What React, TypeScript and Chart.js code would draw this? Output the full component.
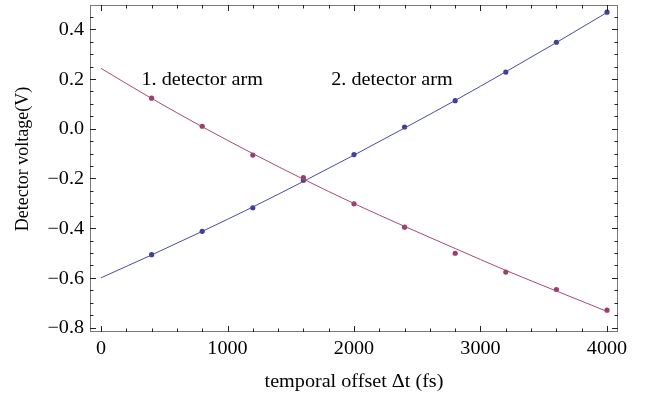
import React, { useEffect, useRef } from "react";
import { Chart, registerables } from "chart.js";

Chart.register(...registerables);

const sampleOffsets = [400, 800, 1200, 1600, 2000, 2400, 2800, 3200, 3600, 4000];
const arm2Measured = [-0.507, -0.413, -0.318, -0.207, -0.104, 0.007, 0.113, 0.228, 0.348, 0.469];
const arm1Measured = [0.123, 0.01, -0.106, -0.197, -0.302, -0.396, -0.501, -0.577, -0.647, -0.73];

const fitOffsets = [0, 400, 800, 1200, 1600, 2000, 2400, 2800, 3200, 3600, 4000];
const arm2Fit = [-0.6, -0.508, -0.413, -0.315, -0.212, -0.106, 0.003, 0.114, 0.229, 0.347, 0.468];
const arm1Fit = [0.243, 0.122, 0.008, -0.1, -0.203, -0.301, -0.393, -0.482, -0.57, -0.653, -0.735];

const xMajorTicks = [0, 1000, 2000, 3000, 4000];
const yMajorTicks = [-0.8, -0.6, -0.4, -0.2, 0.0, 0.2, 0.4];

const armLabels = ["1. detector arm", "2. detector arm"];
const armLabelX = [800, 2300];
const armLabelY = [0.175, 0.175];

const xTitle = "temporal offset \u0394t (fs)";
const yTitle = "Detector voltage(V)";

const BLUE = "#3d3d99";
const RED = "#993d6b";
const BLUE_LINE = "#4a4aac";
const RED_LINE = "#a8487a";
const FONT = "'Liberation Serif', 'DejaVu Serif', serif";
const FONT_PX = 18;
const STRETCH = 1.12;

const fmtY = (v: number) => {
  const s = Math.abs(v).toFixed(1);
  return v < -1e-9 ? "\u2212" + s : s;
};

function stretchedText(ctx: CanvasRenderingContext2D, text: string, x: number, y: number, align: CanvasTextAlign, baseline: CanvasTextBaseline) {
  ctx.save();
  ctx.translate(x, y);
  ctx.scale(STRETCH, 1);
  ctx.textAlign = align;
  ctx.textBaseline = baseline;
  ctx.fillText(text, 0, 0);
  ctx.restore();
}

const framePlugin = {
  id: "frameTicks",
  afterDatasetsDraw(chart: any) {
    const { ctx, chartArea: a, scales } = chart;
    const xs = scales.x;
    const ys = scales.y;
    ctx.save();
    // frame
    ctx.strokeStyle = "#7a7a7a";
    ctx.lineWidth = 1;
    ctx.strokeRect(Math.round(a.left) + 0.5, Math.round(a.top) + 0.5, Math.round(a.right - a.left) - 1, Math.round(a.bottom - a.top) - 1);
    ctx.strokeStyle = "#222";
    ctx.lineWidth = 1;
    const major = 6;
    const minor = 3.5;
    for (let v = 0; v <= 4000; v += 200) {
      const px = Math.round(xs.getPixelForValue(v)) + 0.5;
      const len = v % 1000 === 0 ? major : minor;
      ctx.beginPath();
      ctx.moveTo(px, a.bottom);
      ctx.lineTo(px, a.bottom - len);
      ctx.moveTo(px, a.top);
      ctx.lineTo(px, a.top + len);
      ctx.stroke();
    }
    for (let i = -16; i <= 9; i++) {
      const v = i * 0.05;
      if (v < ys.min || v > ys.max) continue;
      const py = Math.round(ys.getPixelForValue(v)) + 0.5;
      const len = i % 4 === 0 ? major : minor;
      ctx.beginPath();
      ctx.moveTo(a.left, py);
      ctx.lineTo(a.left + len, py);
      ctx.moveTo(a.right, py);
      ctx.lineTo(a.right - len, py);
      ctx.stroke();
    }
    // texts
    ctx.fillStyle = "#000";
    ctx.font = FONT_PX + "px " + FONT;
    xMajorTicks.forEach((v) => {
      stretchedText(ctx, String(v), xs.getPixelForValue(v), a.bottom + 22, "center", "alphabetic");
    });
    yMajorTicks.forEach((v) => {
      stretchedText(ctx, fmtY(v), a.left - 6, ys.getPixelForValue(v) + 1, "right", "middle");
    });
    armLabels.forEach((t, i) => {
      stretchedText(ctx, t, xs.getPixelForValue(armLabelX[i]), ys.getPixelForValue(armLabelY[i]), "center", "alphabetic");
    });
    stretchedText(ctx, xTitle, (a.left + a.right) / 2, 387, "center", "alphabetic");
    ctx.save();
    ctx.translate(28, 159);
    ctx.rotate(-Math.PI / 2);
    ctx.textAlign = "center";
    ctx.textBaseline = "alphabetic";
    ctx.fillText(yTitle, 0, 0);
    ctx.restore();
    ctx.restore();
  },
};

export default function App() {
  const ref = useRef<HTMLCanvasElement>(null);
  useEffect(() => {
    document.body.style.margin = "0";
    const chart = new Chart(ref.current!, {
      type: "scatter",
      data: {
        datasets: [
          {
            type: "line",
            data: fitOffsets.map((x, i) => ({ x, y: arm1Fit[i] })),
            borderColor: RED_LINE,
            borderWidth: 1,
            pointRadius: 0,
            cubicInterpolationMode: "monotone",
            fill: false,
          } as any,
          {
            type: "line",
            data: fitOffsets.map((x, i) => ({ x, y: arm2Fit[i] })),
            borderColor: BLUE_LINE,
            borderWidth: 1,
            pointRadius: 0,
            cubicInterpolationMode: "monotone",
            fill: false,
          } as any,
          {
            data: sampleOffsets.map((x, i) => ({ x, y: arm1Measured[i] })),
            backgroundColor: RED,
            borderColor: RED,
            pointRadius: 2.6,
            borderWidth: 0,
          },
          {
            data: sampleOffsets.map((x, i) => ({ x, y: arm2Measured[i] })),
            backgroundColor: BLUE,
            borderColor: BLUE,
            pointRadius: 2.6,
            borderWidth: 0,
          },
        ],
      },
      options: {
        animation: false,
        responsive: false,
        maintainAspectRatio: false,
        layout: { padding: { left: 0, top: 5, right: 30, bottom: 0 } },
        plugins: { legend: { display: false }, tooltip: { enabled: false } },
        scales: {
          x: {
            type: "linear",
            min: -87,
            max: 4087,
            afterFit: (s: any) => {
              s.height = 67;
            },
            grid: { display: false, drawTicks: false },
            border: { display: false },
            ticks: { display: false },
          },
          y: {
            type: "linear",
            min: -0.818,
            max: 0.498,
            afterFit: (s: any) => {
              s.width = 90;
            },
            grid: { display: false, drawTicks: false },
            border: { display: false },
            ticks: { display: false },
          },
        },
      },
      plugins: [framePlugin],
    });
    return () => chart.destroy();
  }, []);
  return (
    <div style={{ position: "absolute", left: 0, top: 0, width: 648, height: 399 }}>
      <canvas ref={ref} width={648} height={399} style={{ width: 648, height: 399 }} />
    </div>
  );
}
